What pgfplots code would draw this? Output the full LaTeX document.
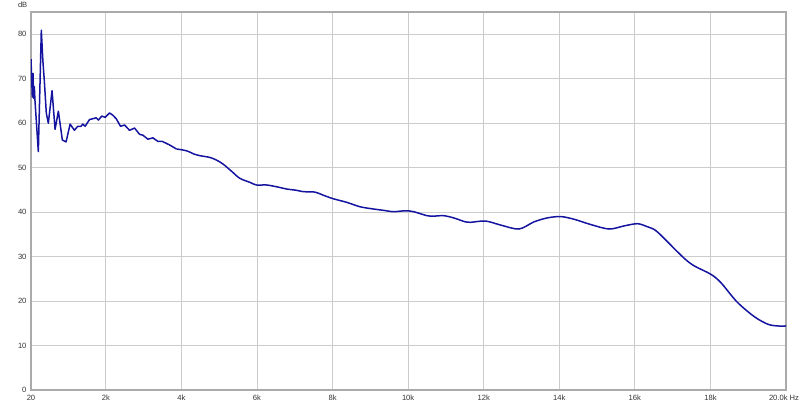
\documentclass[border=0pt]{standalone}
\usepackage{pgfplots}
\pgfplotsset{compat=1.18}
\usepackage{fontspec}
\setmainfont{Liberation Sans}
\definecolor{curve}{HTML}{1414A0}
\definecolor{gridc}{HTML}{CCCCCC}
\definecolor{framec}{HTML}{AAAAAA}
\definecolor{labc}{HTML}{333333}
\begin{document}
\begin{tikzpicture}
\useasboundingbox (-31pt,-17pt) rectangle (769pt,390pt);
\begin{axis}[
  name=ax,
  at={(0,0)}, anchor=south west,
  scale only axis, width=755pt, height=378pt,
  xmin=20, xmax=20000, ymin=0, ymax=85,
  xtick={20,2000,4000,6000,8000,10000,12000,14000,16000,18000,20000},
  xticklabels={20,2k,4k,6k,8k,10k,12k,14k,16k,18k,20.0k Hz\kern4pt},
  ytick={0,10,20,30,40,50,60,70,80},
  grid=major,
  major grid style={gridc, line width=0.8pt},
  major tick length=0pt,
  axis line style={framec, line width=2pt},
  tick label style={font=\fontsize{7.6}{9}\selectfont, text=labc},
  /pgf/number format/assume math mode=true,
  xticklabel style={inner sep=0.5pt, yshift=-4pt},
  yticklabel style={xshift=-1pt},
]
\addplot[curve, line width=1.5pt, line join=round] coordinates {
(20,74.4)(55,65.9)(73,71.2)(89,65.6)(108,68.2)(126,65.0)(214,53.6)(293,80.9)(333,74.2)(373,69.5)(426,62.2)(479,60.0)(519,63.0)(577,67.3)(657,58.6)(744,62.7)(850,56.2)(949,55.8)(1055,59.8)(1169,58.4)(1256,59.3)(1346,59.3)(1389,59.8)(1453,59.3)(1567,60.8)(1654,61.0)(1744,61.2)(1805,60.7)(1893,61.6)(1983,61.3)(2097,62.3)(2185,61.8)(2275,61.0)(2389,59.3)(2495,59.6)(2628,58.4)(2761,58.9)(2893,57.5)(2981,57.3)(3113,56.4)(3246,56.7)(3379,55.9)(3495,55.9)(3689,55.1)(3867,54.2)
};
\addplot[curve, line width=1.5pt, smooth, tension=0.5] coordinates {
(3867,54.2)(4132,53.8)(4352,53.0)(4485,52.7)(4750,52.3)(4928,51.7)(5103,50.8)(5326,49.2)(5546,47.6)(5811,46.7)(5989,46.1)(6254,46.1)(6520,45.7)(6785,45.2)(7050,44.9)(7226,44.6)(7536,44.5)(7756,43.8)(8021,43.0)(8377,42.2)(8729,41.2)(9083,40.7)(9348,40.4)(9613,40.1)(9924,40.3)(10144,40.1)(10499,39.2)(10675,39.1)(10940,39.2)(11206,38.7)(11516,37.8)(11649,37.7)(12047,38.0)(12445,37.1)(12931,36.2)(13329,37.8)(13684,38.7)(14037,39.0)(14390,38.4)(14836,37.2)(15317,36.2)(15716,36.9)(16071,37.4)(16336,36.7)(16511,36.1)(16693,34.8)(16867,33.3)(17308,29.6)(17573,27.9)(18016,26.0)(18281,24.1)(18704,19.8)(19160,16.5)(19516,14.8)(19781,14.4)(20000,14.4)
};
\end{axis}
\node[anchor=east, inner sep=0pt, font=\fontsize{7.6}{9}\selectfont, text=labc] at ([xshift=-3.5pt, yshift=7pt]ax.north west) {dB};
\end{tikzpicture}
\end{document}
